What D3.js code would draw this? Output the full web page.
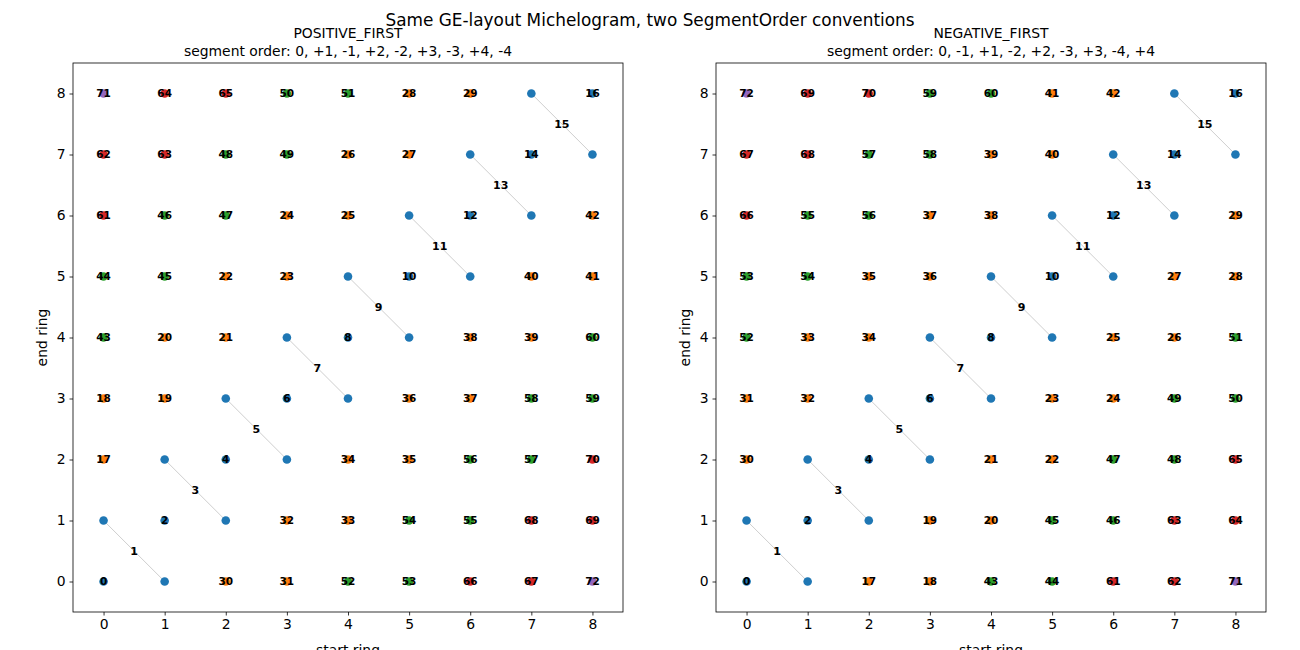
<!DOCTYPE html>
<html>
<head>
<meta charset="utf-8">
<script src="https://cdn.jsdelivr.net/npm/d3@7"></script>
<style>
  body { margin: 0; background: #fff; }
  text { font-family: "DejaVu Sans", sans-serif; }
</style>
</head>
<body>
<div id="myChart"></div>
<script>
// ring numbers (tick labels on both axes)
let rings = [0, 1, 2, 3, 4, 5, 6, 7, 8];

// segment number by |end - start| (GE layout), colour follows |segment|
let diffSegment = [0, 0, 1, 1, 2, 2, 3, 3, 4];
let segColors = ["#1f77b4", "#ff7f0e", "#2ca02c", "#d62728", "#9467bd"];

// sinogram index per cell, rows = end ring 0..8, cols = start ring 0..8
// null = end point of a merged segment-0 pair (dot only, label at midpoint)
let posFirst = [
  [0, null, 30, 31, 52, 53, 66, 67, 72],
  [null, 2, null, 32, 33, 54, 55, 68, 69],
  [17, null, 4, null, 34, 35, 56, 57, 70],
  [18, 19, null, 6, null, 36, 37, 58, 59],
  [43, 20, 21, null, 8, null, 38, 39, 60],
  [44, 45, 22, 23, null, 10, null, 40, 41],
  [61, 46, 47, 24, 25, null, 12, null, 42],
  [62, 63, 48, 49, 26, 27, null, 14, null],
  [71, 64, 65, 50, 51, 28, 29, null, 16],
];

let negFirst = [
  [0, null, 17, 18, 43, 44, 61, 62, 71],
  [null, 2, null, 19, 20, 45, 46, 63, 64],
  [30, null, 4, null, 21, 22, 47, 48, 65],
  [31, 32, null, 6, null, 23, 24, 49, 50],
  [52, 33, 34, null, 8, null, 25, 26, 51],
  [53, 54, 35, 36, null, 10, null, 27, 28],
  [66, 55, 56, 37, 38, null, 12, null, 29],
  [67, 68, 57, 58, 39, 40, null, 14, null],
  [72, 69, 70, 59, 60, 41, 42, null, 16],
];

// merged pairs (start, end) <-> (end, start), label at the midpoint
let pairStarts = [0, 1, 2, 3, 4, 5, 6, 7];
let pairLabels = [1, 3, 5, 7, 9, 11, 13, 15];

let panels = [
  { name: "POSITIVE_FIRST", order: "segment order: 0, +1, -1, +2, -2, +3, -3, +4, -4", grid: posFirst, left: 73 },
  { name: "NEGATIVE_FIRST", order: "segment order: 0, -1, +1, -2, +2, -3, +3, -4, +4", grid: negFirst, left: 716 },
];

let W = 1300, H = 650;
let marginTop = 63, pw = 550, ph = 549;

let svg = d3.select("#myChart").append("svg").attr("width", W).attr("height", H);

svg.append("text")
  .attr("x", W / 2).attr("y", 26)
  .attr("text-anchor", "middle")
  .style("font-size", "16.9px")
  .text("Same GE-layout Michelogram, two SegmentOrder conventions");

panels.forEach((p) => {
  let g = svg.append("g").attr("transform", `translate(${p.left},${marginTop})`);
  let x = d3.scaleLinear().domain([-0.5, 8.5]).range([0, pw]);
  let y = d3.scaleLinear().domain([-0.5, 8.5]).range([ph, 0]);

  // titles
  g.append("text").attr("x", pw / 2).attr("y", -25).attr("text-anchor", "middle")
    .style("font-size", "13.9px").text(p.name);
  g.append("text").attr("x", pw / 2).attr("y", -7).attr("text-anchor", "middle")
    .style("font-size", "13.9px").text(p.order);

  // pair connector lines
  pairStarts.forEach((s) => {
    g.append("line")
      .attr("x1", x(s)).attr("y1", y(s + 1))
      .attr("x2", x(s + 1)).attr("y2", y(s))
      .attr("stroke", "#c8c8c8").attr("stroke-width", 0.9);
  });

  // cells
  let cells = [];
  p.grid.forEach((row, e) => row.forEach((v, s) => cells.push({ s: s, e: e, v: v })));

  g.selectAll(".dot").data(cells).enter().append("circle")
    .attr("class", "dot")
    .attr("cx", (d) => x(d.s))
    .attr("cy", (d) => y(d.e))
    .attr("r", 4.3)
    .attr("fill", (d) => segColors[diffSegment[Math.abs(d.e - d.s)]]);

  g.selectAll(".lbl").data(cells.filter((d) => d.v !== null)).enter().append("text")
    .attr("class", "lbl")
    .attr("x", (d) => x(d.s))
    .attr("y", (d) => y(d.e))
    .attr("dy", "0.35em")
    .attr("text-anchor", "middle")
    .style("font-size", "10.5px")
    .style("font-weight", "bold")
    .text((d) => d.v);

  // midpoint labels
  pairStarts.forEach((s, i) => {
    g.append("text")
      .attr("x", x(s + 0.5)).attr("y", y(s + 0.5))
      .attr("dy", "0.35em")
      .attr("text-anchor", "middle")
      .style("font-size", "11px")
      .style("font-weight", "600")
      .text(pairLabels[i]);
  });

  // axes
  let xAxis = g.append("g").attr("transform", `translate(0,${ph})`)
    .call(d3.axisBottom(x).tickValues(rings).tickSize(3.5).tickPadding(4));
  let yAxis = g.append("g")
    .call(d3.axisLeft(y).tickValues(rings).tickSize(3.5).tickPadding(4));
  [xAxis, yAxis].forEach((a) => {
    a.select(".domain").remove();
    a.selectAll(".tick text").style("font-size", "13.9px").style("font-family", "DejaVu Sans");
    a.selectAll(".tick line").attr("stroke", "#000").attr("stroke-width", 0.8);
  });

  // frame
  g.append("rect").attr("x", 0).attr("y", 0).attr("width", pw).attr("height", ph)
    .attr("fill", "none").attr("stroke", "#000").attr("stroke-width", 0.8);

  // axis labels
  g.append("text").attr("x", pw / 2).attr("y", ph + 43).attr("text-anchor", "middle")
    .style("font-size", "13.9px").text("start ring");
  g.append("text").attr("transform", "rotate(-90)")
    .attr("x", -ph / 2).attr("y", -26).attr("text-anchor", "middle")
    .style("font-size", "13.9px").text("end ring");
});
</script>
</body>
</html>
